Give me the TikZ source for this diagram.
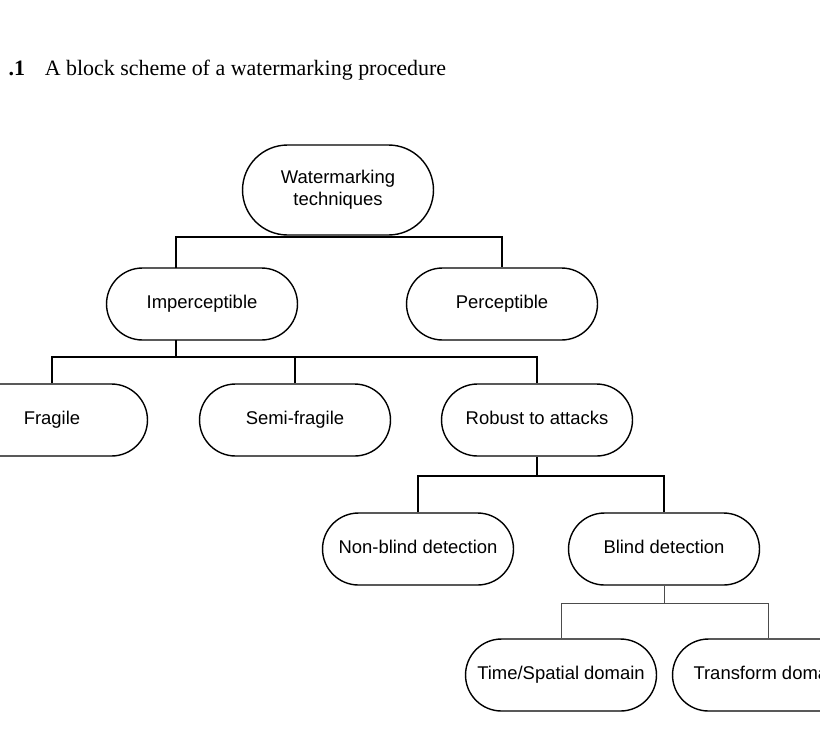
\documentclass[tikz,border=0pt]{standalone}
\usepackage{fontspec}
\setmainfont{Liberation Serif}
\newfontfamily\boxfont{Liberation Sans}
\usetikzlibrary{shapes.misc}

\begin{document}
\begin{tikzpicture}[x=0.02cm,y=-0.02cm,thick,
    block/.style={draw,rounded rectangle,minimum width=3.82cm,minimum height=1.44cm,
        font=\boxfont\fontsize{10.5}{12.5}\selectfont,align=center,inner sep=0pt,
        text height=1.6ex,text depth=0.5ex},
    link/.style={line width=0.9pt},
    thinlink/.style={line width=0.5pt,draw=black!70}
]
\useasboundingbox (0,0) rectangle (820,734);
\clip (0,0) rectangle (820,734);

\node[anchor=west,font=\fontsize{12.5}{15}\selectfont] (caption) at (2,70)
    {\textbf{.1}\hspace{0.9em}A block scheme of a watermarking procedure};

% levels of the scheme
\node[block,minimum height=1.8cm,text height=,text depth=] (wm) at (338,190) {Watermarking\\techniques};
\node[block] (imp) at (202,304) {Imperceptible};
\node[block] (per) at (502,304) {Perceptible};
\node[block] (fra) at (52,420) {Fragile};
\node[block] (semi) at (295,420) {Semi-fragile};
\node[block] (rob) at (537,420) {Robust to attacks};
\node[block] (nbd) at (418,549) {Non-blind detection};
\node[block] (bd) at (664,549) {Blind detection};
\node[block] (tsd) at (561,675) {Time/Spatial domain};
\node[block] (td) at (768,675) {Transform domain};

\coordinate (impT) at (176,268);
\coordinate (impB) at (176,340);

\draw[link] (wm.south) -- (338,237);
\draw[link] (impT) -- (176,237) -| (per.north);
\draw[link] (impB) -- (176,357);
\draw[link] (fra.north) |- (176,357) -| (rob.north);
\draw[link] (semi.north) -- (295,357);
\draw[link] (rob.south) -- (537,476);
\draw[link] (nbd.north) |- (537,476) -| (bd.north);
\draw[thinlink] (bd.south) -- (664,603);
\draw[thinlink] (tsd.north) |- (664,603) -| (td.north);
\end{tikzpicture}
\end{document}
